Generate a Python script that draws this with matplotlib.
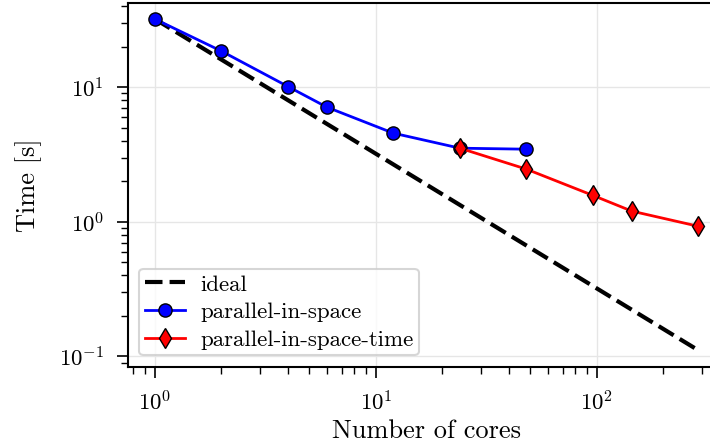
import numpy as np
import matplotlib
matplotlib.use("Agg")
import matplotlib.pyplot as plt

# Data
cores_ideal = [1, 288]
ideal_base = 32.0
cores_space = [1, 2, 4, 6, 12, 24, 48]
time_space = [32.0, 18.5, 10.1, 7.1, 4.55, 3.52, 3.46]
cores_spacetime = [24, 48, 96, 144, 288]
time_spacetime = [3.52, 2.46, 1.57, 1.20, 0.926]

plt.rcParams['font.family'] = 'serif'
plt.rcParams['font.serif'] = ['cmr10']
plt.rcParams['mathtext.fontset'] = 'cm'
plt.rcParams['axes.formatter.use_mathtext'] = True
plt.rcParams['axes.unicode_minus'] = True

fig = plt.figure(figsize=(7.10, 4.47), dpi=100)
ax = fig.add_axes([0.1799, 0.1792, 0.842, 0.8152])

ideal_x = np.array(cores_ideal, dtype=float)
ideal_y = ideal_base / ideal_x
ax.plot(ideal_x, ideal_y, color='black', lw=3, dashes=(4.2, 1.7), label='ideal', zorder=2)
ax.plot(cores_space, time_space, '-o', color='blue', lw=2, ms=9.5,
        mec='black', mew=1.0, label='parallel-in-space', zorder=3)
ax.plot(cores_spacetime, time_spacetime, '-d', color='red', lw=2, ms=10,
        mec='black', mew=1.0, label='parallel-in-space-time', zorder=4)

ax.set_xscale('log')
ax.set_yscale('log')

ax.grid(True, which='major', color='#e6e6e6', lw=1.0, zorder=0)
ax.set_axisbelow(True)

ax.tick_params(which='major', direction='out', length=8, width=1.2, labelsize=16.5, pad=9)
ax.tick_params(which='minor', direction='out', length=5, width=1.0)
for s in ax.spines.values():
    s.set_linewidth(1.5)

ax.set_xlabel('Number of cores', fontsize=19, labelpad=3)
ax.set_ylabel('Time [s]', fontsize=19, labelpad=12)

leg = ax.legend(loc='lower left', fontsize=16.5, frameon=True, fancybox=True,
                edgecolor='#cccccc', framealpha=0.8, handlelength=1.75,
                borderpad=0.25, labelspacing=0.33, handletextpad=0.65,
                borderaxespad=0.5)
leg.get_frame().set_linewidth(1.5)

fig.savefig('out.png', dpi=100)
